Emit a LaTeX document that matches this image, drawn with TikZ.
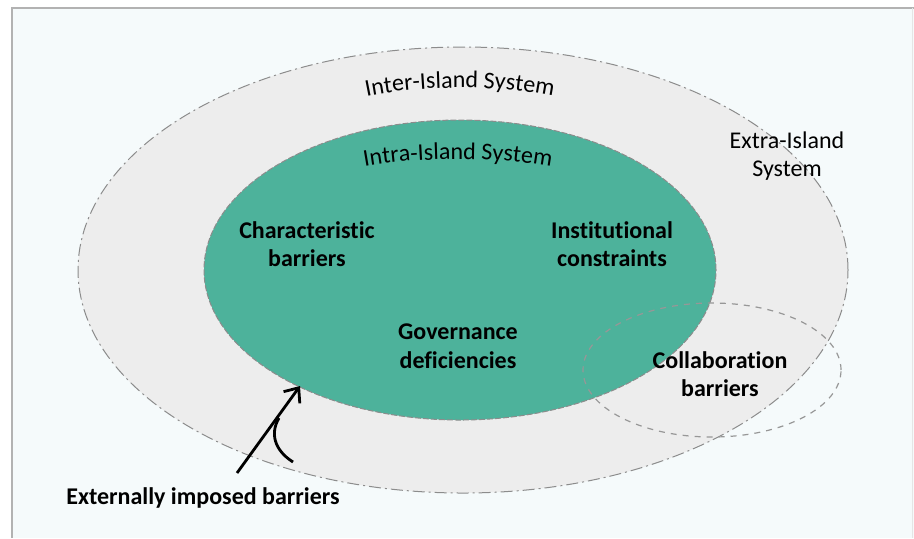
\documentclass[tikz,border=0pt]{standalone}
\usepackage{fontspec}
\setmainfont{Carlito}[Ligatures=NoCommon]
\usepackage{tikz}
\usetikzlibrary{arrows.meta,decorations.text,shapes.geometric,calc}
\definecolor{isl_teal}{RGB}{77, 178, 155}
\definecolor{isl_grey}{RGB}{237, 237, 237}
\definecolor{isl_bg}{RGB}{245, 250, 251}
\definecolor{isl_line}{RGB}{140, 140, 140}
\tikzstyle{sysring}=[ellipse,fill=isl_grey,draw=isl_line,
  dash pattern=on 6pt off 2pt on 1pt off 2pt,line width=0.5pt]
\tikzstyle{sysin}=[ellipse,fill=isl_teal,draw=isl_line,
  dash pattern=on 3pt off 1pt,line width=0.5pt]
\tikzstyle{syscol}=[ellipse,draw=isl_line!90,dashed,line width=0.6pt]
\tikzstyle{bar}=[align=center,font=\bfseries\fontsize{12}{14.3}\selectfont]
\tikzstyle{sys}=[align=center,font=\fontsize{12}{14.3}\selectfont]

\begin{document}
\begin{tikzpicture}[x=0.5pt,y=-0.5pt]
    \useasboundingbox (0,0) rectangle (914,538);
    \fill[isl_bg] (12,7) rectangle (914,538);
    \draw[black!30,line width=1pt] (12,538) -- (12,7.5) -- (914,7.5);
    \draw[black!10,line width=0.5pt] (912,7.5) -- (912,538);
    \node [style=sysring,minimum width=385pt,minimum height=223pt] (0) at (463, 270) {};
    \node [style=sysin,minimum width=256pt,minimum height=150pt] (1) at (460, 270) {};
    \node [style=syscol,minimum width=129pt,minimum height=67pt] (2) at (712, 370) {};
    \path[decorate,decoration={text along path,text align=center,
      text={|\fontsize{12}{14}\selectfont|Inter-Island System}}]
      (355,99) .. controls (415,84) and (505,84) .. (565,99);
    \path[decorate,decoration={text along path,text align=center,
      text={|\fontsize{12}{14}\selectfont|Intra-Island System}}]
      (353,169) .. controls (413,156) and (503,156) .. (563,169);
    \node [style=sys] (3) at (787, 156) {Extra-Island\\System};
    \node [style=bar] (4) at (307, 244) {Characteristic\\barriers};
    \node [style=bar] (5) at (612, 244) {Institutional\\constraints};
    \node [style=bar] (6) at (458, 346) {Governance\\deficiencies};
    \node [style=bar] (7) at (720, 374) {Collaboration\\barriers};
    \node [style=bar] (8) at (203, 498) {Externally imposed barriers};
    \coordinate (a) at (237, 473);
    \coordinate (b) at (300, 386);
    \draw [line width=1.4pt,-{Straight Barb[length=6pt,width=10pt]}] (a) to (b);
    \draw [line width=1.4pt] (293, 462) .. controls (274, 450) and (270, 433) .. (279, 418);
\end{tikzpicture}
\end{document}
